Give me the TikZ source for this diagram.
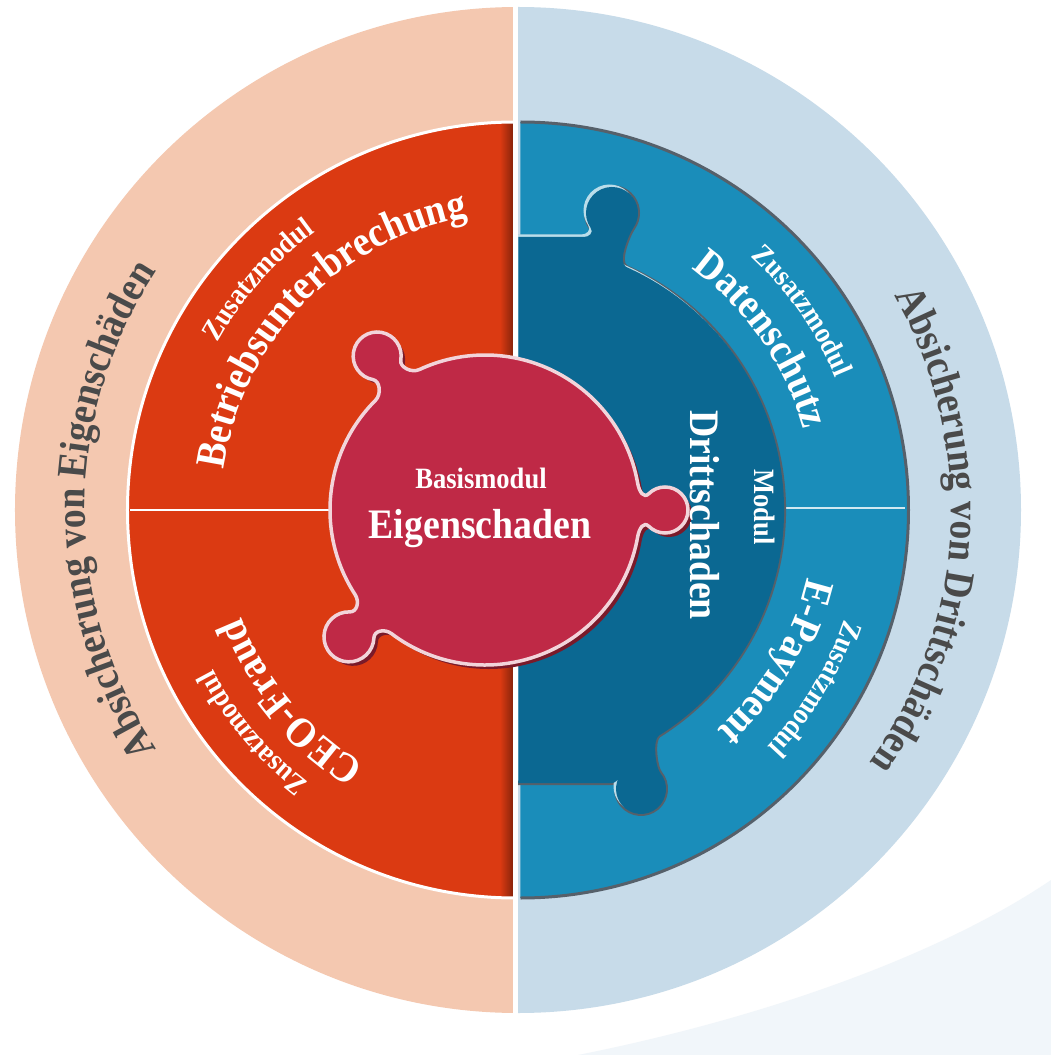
\documentclass[tikz,border=0pt]{standalone}
\usepackage{fontspec}
\setmainfont{Liberation Serif}[FakeStretch=0.9]
\usetikzlibrary{decorations.text,calc}
\definecolor{peach}{HTML}{F4C8B0}
\definecolor{paleblue}{HTML}{C7DBE9}
\definecolor{bgblue}{HTML}{F1F6FA}
\definecolor{redq}{HTML}{DB3A12}
\definecolor{crim}{HTML}{BF2946}
\definecolor{crimshadow}{HTML}{7A1A2A}
\definecolor{darkb}{HTML}{0B6892}
\definecolor{midb}{HTML}{1A8DBA}
\definecolor{txtgray}{HTML}{4A4A4A}
\definecolor{rimgray}{HTML}{56606A}
\newcommand\fbig{\bfseries\fontsize{42}{44}\selectfont}
\newcommand\fsmall{\bfseries\fontsize{29.5}{31}\selectfont}
% one tab of the central puzzle piece: angle, distance, knob radius
\newcommand\knobpath[3]{%
  .. controls ($(-33,0)+({#1-10}:155)+({#1+80}:9)$) and ($(-33,0)+(#1:#2)+({#1-135}:#3)+({#1-45}:-7)$)
  .. ($(-33,0)+(#1:#2)+({#1-135}:#3)$)
  arc[start angle={#1-135}, end angle={#1+135}, radius=#3]
  .. controls ($(-33,0)+(#1:#2)+({#1+135}:#3)+({#1+45}:-7)$) and ($(-33,0)+({#1+10}:155)+({#1+100}:-9)$)
  .. ($(-33,0)+({#1+10}:155)$)}
\newcommand\crimshape[1]{%
  \path[#1] ($(-33,0)+(-10:155)$) \knobpath{0}{180}{23}
    arc[start angle=10, end angle=115, radius=155] \knobpath{125}{188}{24}
    arc[start angle=135, end angle=213, radius=155] \knobpath{223}{186}{25}
    arc[start angle=233, end angle=350, radius=155] -- cycle;}
% dark blue module piece
\newcommand\dbshape[1]{%
  \path[#1] (0.5,273) -- (66,273) .. controls (71,273) and (76.1,277.2) .. (72.7,282.1)
    arc[start angle=215, end angle=-35, radius=26]
    .. controls (110.7,275.5) and (99.1,247.1) .. (108.2,243)
    arc[start angle=66, end angle=-58, radius=266]
    .. controls (134.2,-229.8) and (137.7,-257.5) .. (142.2,-262.9)
    arc[start angle=40, end angle=-215, radius=25]
    .. controls (106,-259.8) and (100,-273) .. (94,-273) -- (0.5,-273) -- cycle;}
\tikzset{
  ringtext/.style 2 args={decorate, decoration={text along path, text align=center, text={|#1|#2}}},
}
\begin{document}
\begin{tikzpicture}[x=1pt,y=1pt]
\useasboundingbox (-518,-545) rectangle (533,510);
\fill[white] (-518,-545) rectangle (533,510);
\fill[bgblue] (60,-545) .. controls (260,-505) and (430,-440) .. (533,-370) -- (533,-545) -- cycle;
% outer ring
\fill[peach] (0,-503) arc(270:90:503) -- cycle;
\fill[paleblue] (0,-503) arc(-90:90:503) -- cycle;
% inner disc
\fill[redq] (-2.5,-388) arc(270:90:388) -- cycle;
\fill[midb] (2.5,-388) arc(-90:90:388) -- cycle;
\begin{scope}
  \clip (-2.5,-388) arc(270:90:388) -- cycle;
  \shade[left color=redq, right color=redq!55!black] (-18,-390) rectangle (-2.5,390);
\end{scope}
\draw[white, line width=3] (-2.5,-388) arc(270:90:388);
\draw[rimgray, line width=3] (2.5,-388) arc(-90:90:388);
% dividers
\draw[white, line width=2.5] (-388,0) -- (-150,0);
\draw[white!80!midb, line width=2.5] (264,2) -- (387,2);
% dark blue piece
\dbshape{fill=rimgray, draw=rimgray, line width=4}
\begin{scope}[shift={(-2.5,2.5)}]
  \dbshape{fill=white!70!midb}
\end{scope}
\dbshape{fill=darkb}
% central white split
\fill[white] (-4.5,-505) rectangle (0.5,505);
% central crimson piece
\begin{scope}[shift={(4,-4)}]
  \crimshape{fill=crimshadow}
\end{scope}
\crimshape{fill=crim, draw=white!80!crim, line width=3.5}
% centre texts
\node[anchor=base, text=white, inner sep=0] (basis) at (-37,22) {\fsmall Basismodul};
\node[anchor=base, text=white, inner sep=0] (eigen) at (-38,-28) {\fbig Eigenschaden};
% outer ring texts
\path[ringtext={\fbig\color{txtgray}}{Absicherung von Eigenschäden}] (250:433) arc(250:110:433);
\path[ringtext={\fbig\color{txtgray}}{Absicherung von Drittschäden}] (67:433) arc(67:-73:433);
% red quadrants
\path[ringtext={\fbig\color{white}}{Betriebsunterbrechung}] (206:297) arc(206:66:297);
\path[ringtext={\fsmall\color{white}}{Zusatzmodul}] (208.5:344) arc(208.5:68.5:344);
\path[ringtext={\fbig\color{white}}{CEO-Fraud}] (290:297) arc(290:150:297);
\path[ringtext={\fsmall\color{white}}{Zusatzmodul}] (290:344) arc(290:150:344);
% blue quadrants
\path[ringtext={\fbig\color{white}}{Datenschutz}] (105:297) arc(105:-35:297);
\path[ringtext={\fsmall\color{white}}{Zusatzmodul}] (105:344) arc(105:-35:344);
\path[ringtext={\fbig\color{white}}{E-Payment}] (39.5:297) arc(39.5:-100.5:297);
\path[ringtext={\fsmall\color{white}}{Zusatzmodul}] (39:344) arc(39:-101:344);
% dark blue module
\path[ringtext={\fbig\color{white}}{Drittschaden}] (172,195) -- (172,-205);
\path[ringtext={\fsmall\color{white}}{Modul}] (236,150) -- (236,-144);
\end{tikzpicture}
\end{document}
